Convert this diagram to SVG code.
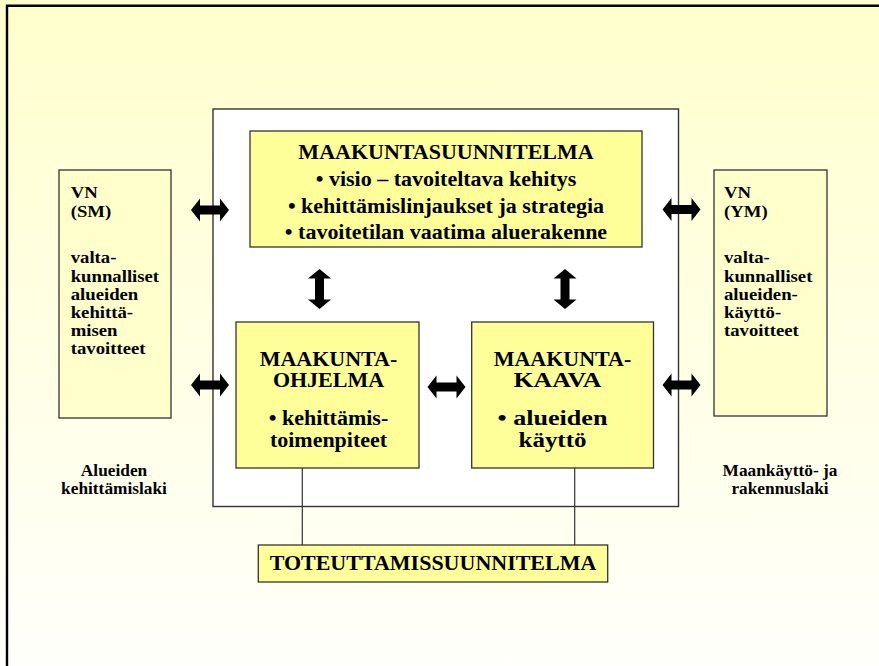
<svg xmlns="http://www.w3.org/2000/svg" width="879" height="666" viewBox="0 0 879 666">
<defs>
<linearGradient id="bg" x1="0" y1="0" x2="0" y2="1">
<stop offset="0" stop-color="#FFFFCC"/>
<stop offset="1" stop-color="#FFFFFB"/>
</linearGradient>
<path id="dbl" d="M-19,0 L-10,-11.5 L-10,-4.5 L10,-4.5 L10,-11.5 L19,0 L10,11.5 L10,4.5 L-10,4.5 L-10,11.5 Z"/>
</defs>
<style>
.t{font-family:"Liberation Serif","Times New Roman",serif;font-weight:bold;fill:#000;}
.c{text-anchor:middle;}
.ybox{fill:#FFFF99;stroke:#333;stroke-width:1.3;}
.vbox{fill:#FFFFCC;stroke:#333;stroke-width:1.3;}
.ln{stroke:#333;stroke-width:1.2;fill:none;}
.ar{fill:#000;}
</style>
<rect x="0" y="0" width="879" height="666" fill="url(#bg)"/>
<path d="M7,666 V5.7 H879" fill="none" stroke="#000" stroke-width="2.4"/>

<g id="frame">
<rect x="213" y="109" width="465.5" height="397.5" fill="#FFFFFF" stroke="#333" stroke-width="1.4"/>
</g>

<g id="connectors">
<line class="ln" x1="302.3" y1="468" x2="302.3" y2="545"/>
<line class="ln" x1="574.7" y1="468" x2="574.7" y2="545"/>
<use href="#dbl" class="ar" transform="translate(210,210)"/>
<use href="#dbl" class="ar" transform="translate(210,385)"/>
<use href="#dbl" class="ar" transform="translate(681.5,209.5)"/>
<use href="#dbl" class="ar" transform="translate(681.5,385)"/>
<use href="#dbl" class="ar" transform="translate(446.5,387)"/>
<use href="#dbl" class="ar" transform="translate(319.5,289) rotate(90) scale(1.05,1)"/>
<use href="#dbl" class="ar" transform="translate(565,289) rotate(90) scale(1.05,1)"/>
</g>

<g id="maakuntasuunnitelma">
<rect class="ybox" x="250" y="131" width="392" height="116"/>
<text class="t c" font-size="20" transform="translate(446,0) scale(1.1,1)" x="0" y="159">MAAKUNTASUUNNITELMA</text>
<text class="t c" font-size="20" transform="translate(446,0) scale(1.1,1)" x="0" y="186.5">• visio – tavoiteltava kehitys</text>
<text class="t c" font-size="20" transform="translate(446,0) scale(1.1,1)" x="0" y="213">• kehittämislinjaukset ja strategia</text>
<text class="t c" font-size="20" transform="translate(446,0) scale(1.1,1)" x="0" y="239">• tavoitetilan vaatima aluerakenne</text>
</g>

<g id="vn-sm">
<rect class="vbox" x="59" y="170" width="112" height="248"/>
<g transform="translate(70.7,0) scale(1.07,1)">
<text class="t" font-size="17.5" x="0" y="198.5">VN</text>
<text class="t" font-size="17.5" x="0" y="217">(SM)</text>
<text class="t" font-size="17.5" x="0" y="263.5">valta-</text>
<text class="t" font-size="17.5" x="0" y="281.7">kunnalliset</text>
<text class="t" font-size="17.5" x="0" y="299.9">alueiden</text>
<text class="t" font-size="17.5" x="0" y="318.1">kehittä-</text>
<text class="t" font-size="17.5" x="0" y="336.3">misen</text>
<text class="t" font-size="17.5" x="0" y="354.5">tavoitteet</text>
</g>
</g>

<g id="vn-ym">
<rect class="vbox" x="714" y="170" width="113" height="246"/>
<g transform="translate(724,0) scale(1.07,1)">
<text class="t" font-size="17.5" x="0" y="198.5">VN</text>
<text class="t" font-size="17.5" x="0" y="217">(YM)</text>
<text class="t" font-size="17.5" x="0" y="263.5">valta-</text>
<text class="t" font-size="17.5" x="0" y="281.7">kunnalliset</text>
<text class="t" font-size="17.5" x="0" y="299.9">alueiden-</text>
<text class="t" font-size="17.5" x="0" y="318.1">käyttö-</text>
<text class="t" font-size="17.5" x="0" y="336.3">tavoitteet</text>
</g>
</g>

<g id="maakuntaohjelma">
<rect class="ybox" x="236" y="322" width="183" height="146"/>
<g transform="translate(328.5,0) scale(1.1,1)">
<text class="t c" font-size="20" x="0" y="366">MAAKUNTA-</text>
<text class="t c" font-size="20" x="0" y="387">OHJELMA</text>
<text class="t c" font-size="20" x="0" y="425">• kehittämis-</text>
<text class="t c" font-size="20" x="0" y="447">toimenpiteet</text>
</g>
</g>

<g id="maakuntakaava">
<rect class="ybox" x="471.7" y="322" width="181.8" height="146"/>
<text class="t c" font-size="20" transform="translate(562.5,0) scale(1.1,1)" x="0" y="366">MAAKUNTA-</text>
<text class="t c" font-size="20" x="557.5" y="387" textLength="88" lengthAdjust="spacingAndGlyphs">KAAVA</text>
<text class="t c" font-size="20" x="552.5" y="425" textLength="110" lengthAdjust="spacingAndGlyphs">• alueiden</text>
<text class="t c" font-size="20" x="552.5" y="447" textLength="68" lengthAdjust="spacingAndGlyphs">käyttö</text>
</g>

<g id="toteuttamissuunnitelma">
<rect class="ybox" x="258.3" y="545" width="349.4" height="37"/>
<text class="t c" font-size="20" transform="translate(433,0) scale(1.1,1)" x="0" y="570.5">TOTEUTTAMISSUUNNITELMA</text>
</g>

<g id="label-alueiden">
<g transform="translate(114,0) scale(1.05,1)">
<text class="t c" font-size="16.5" x="0" y="476">Alueiden</text>
<text class="t c" font-size="16.5" x="0" y="494">kehittämislaki</text>
</g>
</g>

<g id="label-mrl">
<g transform="translate(780,0) scale(1.05,1)">
<text class="t c" font-size="16.5" x="0" y="476">Maankäyttö- ja</text>
<text class="t c" font-size="16.5" x="0" y="494">rakennuslaki</text>
</g>
</g>
</svg>
